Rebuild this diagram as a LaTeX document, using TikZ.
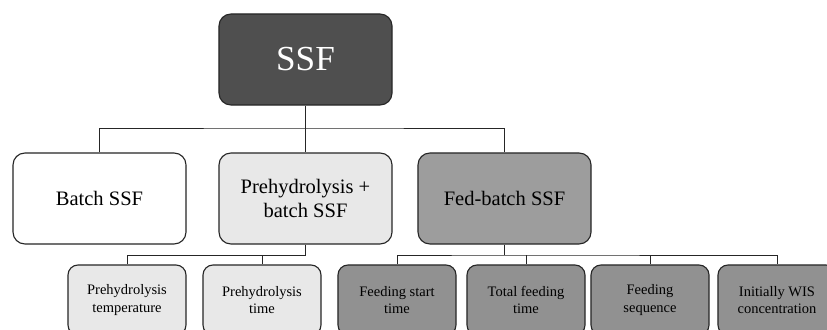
\documentclass[tikz,border=0pt]{standalone}
\usepackage{fontspec}
\setmainfont{Liberation Serif}
\usepackage{tikz}
\usetikzlibrary{positioning, calc}
\definecolor{rootfill}{HTML}{4F4F4F}
\definecolor{lightfill}{HTML}{E8E8E8}
\definecolor{midfill}{HTML}{9D9D9D}
\definecolor{feedfill}{HTML}{919191}
\definecolor{edge}{HTML}{262626}

\begin{document}
\begin{tikzpicture}[x=0.025cm, y=-0.025cm,
        every node/.style={font=\fontsize{14.6}{17.5}\selectfont},
        box/.style={rectangle, rounded corners=0.3cm, draw=edge, line width=0.8pt,
          minimum width=4.325cm, minimum height=2.275cm, align=center, inner sep=2pt},
        leaf/.style={box, rounded corners=0.25cm, minimum width=2.95cm,
          minimum height=1.75cm, font=\fontsize{10.3}{12.6}\selectfont},
        link/.style={draw=edge, line width=0.7pt}]

      \useasboundingbox (0,0) rectangle (827,329);

      % top level
      \node[box, fill=rootfill, text=white, font=\fontsize{25}{30}\selectfont]
        (ssf) at (305.5,59.5) {SSF};

      % process modes
      \node[box, fill=white] (batch) at (99.5,198.5) {Batch SSF};
      \node[box, fill=lightfill] (pre) at (305.5,198.5) {Prehydrolysis +\\batch SSF};
      \node[box, fill=midfill] (fed) at (504.5,198.5) {Fed-batch SSF};

      % studied parameters
      \node[leaf, fill=lightfill] (ptemp) at (127,300) {Prehydrolysis\\temperature};
      \node[leaf, fill=lightfill] (ptime) at (262,300) {Prehydrolysis\\time};
      \node[leaf, fill=feedfill] (fstart) at (397,300) {Feeding start\\time};
      \node[leaf, fill=feedfill] (ftotal) at (526,300) {Total feeding\\time};
      \node[leaf, fill=feedfill] (fseq) at (650,300) {Feeding\\sequence};
      \node[leaf, fill=feedfill] (wis) at (777,300) {Initially WIS\\concentration};

      \coordinate (bus) at (305.5,128);
      \coordinate (prebus) at (305.5,255);
      \coordinate (fedbus) at (504.5,255);

      \draw[link] (ssf.south) -- (bus);
      \draw[link] (batch.north) |- (bus) -| (fed.north);
      \draw[link] (bus) -- (pre.north);

      \draw[link] (pre.south) -- (prebus);
      \draw[link] (ptemp.north) |- (prebus);
      \draw[link] (ptime.north) -- (ptime.north |- prebus);

      \draw[link] (fed.south) -- (fedbus);
      \draw[link] (fstart.north) |- (fedbus) -| (wis.north);
      \draw[link] (ftotal.north) -- (ftotal.north |- fedbus);
      \draw[link] (fseq.north) -- (fseq.north |- fedbus);
    \end{tikzpicture}
\end{document}
